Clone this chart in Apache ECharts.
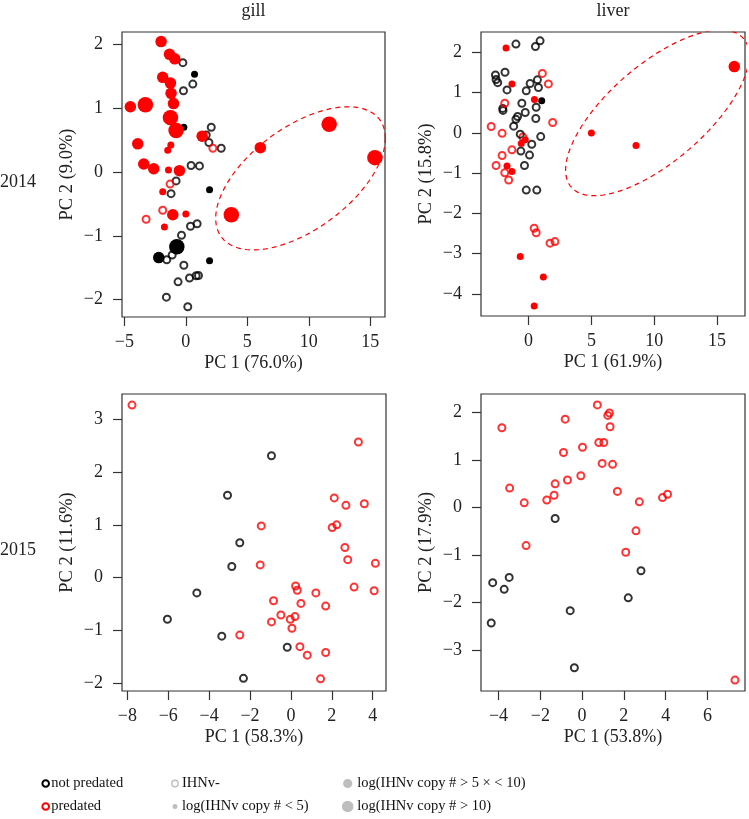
<!DOCTYPE html>
<html><head><meta charset="utf-8">
<script src="https://cdn.jsdelivr.net/npm/echarts@6/dist/echarts.min.js"></script>
<style>html,body{margin:0;padding:0;background:#fff}#c{width:749px;height:819px}</style>
</head><body><div id="c"></div>
<script>
// rows: [PC1, PC2, predated (1) / not predated (0), IHNv class (0 = IHNv-, 1 = log<5, 2 = log>5 & <10, 3 = log>10)]
const gill2014 = [
  [-0.24,1.71,0,0],[0.57,1.375,0,0],[-0.19,1.27,0,0],[2.07,0.70,0,0],[1.66,0.58,0,0],[1.88,0.46,0,0],
  [2.88,0.37,0,0],[0.43,0.10,0,0],[1.11,0.094,0,0],[-0.79,-0.14,0,0],[-1.20,-0.34,0,0],[0.92,-0.81,0,0],
  [0.38,-0.85,0,0],[-0.35,-0.99,0,0],[-1.11,-1.30,0,0],[-1.55,-1.375,0,0],[-0.16,-1.46,0,0],[1.03,-1.62,0,0],
  [0.84,-1.625,0,0],[0.30,-1.66,0,0],[-0.63,-1.72,0,0],[-1.58,-1.96,0,0],[0.16,-2.11,0,0],
  [0.71,1.53,0,1],[-0.16,0.70,0,1],[1.93,-0.28,0,1],[1.93,-1.39,0,1],[-2.20,-1.34,0,2],[-0.73,-1.17,0,3],
  [-3.23,-0.74,1,0],[-1.88,-0.60,1,0],[-1.28,-0.19,1,0],[2.20,0.37,1,0],
  [-2.01,2.04,1,2],[-1.33,1.84,1,2],[-0.90,1.77,1,2],[-1.88,1.48,1,2],[-1.25,1.39,1,2],[-1.20,1.23,1,2],
  [-1.00,1.07,1,2],[-4.51,1.02,1,2],[-3.29,1.05,1,3],[-1.25,0.85,1,3],[-0.79,0.65,1,3],[1.33,0.56,1,2],
  [-3.91,0.44,1,2],[-1.22,0.42,1,1],[-1.47,0.34,1,1],[-3.42,0.125,1,2],[-2.61,0.05,1,2],[-0.52,0.02,1,2],
  [-1.41,0.03,1,1],[-1.88,-0.31,1,1],[-1.06,-0.67,1,2],[0.00,-0.66,1,1],[-1.74,-0.86,1,1],
  [6.06,0.38,1,2],[3.70,-0.67,1,3],[11.66,0.745,1,3],[15.38,0.224,1,3]
];
const liver2014 = [
  [-1.00,2.21,0,0],[0.92,2.29,0,0],[0.55,2.15,0,0],[-1.87,1.51,0,0],[-2.63,1.44,0,0],[-2.58,1.33,0,0],
  [-2.45,1.25,0,0],[-1.71,1.07,0,0],[0.13,1.23,0,0],[0.71,1.32,0,0],[0.79,1.13,0,0],[-0.18,1.05,0,0],
  [-0.53,0.74,0,0],[-2.05,0.61,0,0],[-2.03,0.56,0,0],[-0.26,0.51,0,0],[0.61,0.64,0,0],[-1.00,0.34,0,0],
  [-0.87,0.41,0,0],[0.58,0.36,0,0],[-1.18,0.17,0,0],[0.97,-0.09,0,0],[0.26,-0.28,0,0],
  [-0.61,-0.45,0,0],[0.08,-0.55,0,0],[-0.32,-0.81,0,0],[-0.18,-1.42,0,0],[0.66,-1.42,0,0],
  [1.05,0.80,0,1],
  [1.10,1.48,1,0],[1.58,1.22,1,0],[-1.89,0.74,1,0],[-2.97,0.16,1,0],[-2.10,-0.01,1,0],[1.92,0.26,1,0],
  [-2.10,-0.56,1,0],[-1.32,-0.42,1,0],[-2.58,-0.81,1,0],[-1.89,-0.99,1,0],[-1.58,-1.17,1,0],
  [-0.45,-0.10,1,0],[0.45,-2.37,1,0],[0.61,-2.48,1,0],[1.71,-2.74,1,0],[2.10,-2.70,1,0],
  [-0.66,-0.03,0,0],
  [-1.79,2.11,1,1],[-1.32,1.22,1,1],[0.47,0.83,1,1],[-1.71,-0.82,1,1],[-1.32,-0.96,1,1],
  [-0.58,-0.26,1,1],[-0.26,-0.17,1,1],[-0.66,-3.07,1,1],[1.18,-3.58,1,1],[0.45,-4.30,1,1],
  [5.00,0.00,1,1],[8.55,-0.31,1,1],[16.37,1.65,1,2]
];
const gill2015 = [
  [-0.95,2.31,0,0],[-3.10,1.56,0,0],[-2.50,0.66,0,0],[-2.89,0.21,0,0],[-4.60,-0.29,0,0],
  [-6.04,-0.79,0,0],[-3.38,-1.11,0,0],[-0.18,-1.32,0,0],[-2.32,-1.91,0,0],
  [-7.77,3.27,1,0],[3.30,2.57,1,0],[2.12,1.51,1,0],[2.69,1.37,1,0],[3.59,1.40,1,0],[-1.45,0.98,1,0],
  [2.02,0.95,1,0],[2.24,1.00,1,0],[2.64,0.57,1,0],[2.78,0.34,1,0],[4.13,0.27,1,0],[-1.50,0.24,1,0],
  [0.23,-0.16,1,0],[0.31,-0.24,1,0],[1.22,-0.29,1,0],[3.09,-0.18,1,0],[4.07,-0.25,1,0],[-0.85,-0.44,1,0],
  [0.49,-0.49,1,0],[1.70,-0.54,1,0],[-0.49,-0.71,1,0],[-0.95,-0.84,1,0],[-0.03,-0.79,1,0],[0.20,-0.74,1,0],
  [0.05,-0.96,1,0],[-2.50,-1.09,1,0],[0.44,-1.31,1,0],[0.80,-1.47,1,0],[1.70,-1.42,1,0],[1.45,-1.92,1,0]
];
const liver2015 = [
  [-1.29,-0.23,0,0],[-4.28,-1.58,0,0],[-3.73,-1.72,0,0],[-3.49,-1.47,0,0],[-4.35,-2.43,0,0],
  [-0.57,-2.17,0,0],[-0.37,-3.37,0,0],[2.21,-1.90,0,0],[2.82,-1.33,0,0],
  [-3.84,1.68,1,0],[-3.47,0.41,1,0],[-2.77,0.10,1,0],[-2.68,-0.80,1,0],[-1.69,0.16,1,0],[-1.34,0.26,1,0],
  [-1.29,0.50,1,0],[-0.81,1.86,1,0],[-0.89,1.16,1,0],[-0.70,0.58,1,0],[-0.06,0.67,1,0],[0.02,1.27,1,0],
  [0.73,2.16,1,0],[0.80,1.37,1,0],[1.04,1.37,1,0],[0.96,0.93,1,0],[1.46,0.91,1,0],[1.23,1.94,1,0],
  [1.31,1.99,1,0],[1.34,1.70,1,0],[1.69,0.34,1,0],[2.74,0.12,1,0],[2.58,-0.49,1,0],[2.09,-0.94,1,0],
  [3.85,0.21,1,0],[4.09,0.28,1,0],[7.32,-3.63,1,0]
];
// 95% ellipses for the 2014 panels: [centre PC1, centre PC2, half-width PC1, half-height PC2, cos(phase)]
const ellipseGill2014 = [9.33, -0.10, 6.9, 1.12, 0.56];
const ellipseLiver2014 = [10.25, 0.50, 7.3, 2.06, 0.69];

const tissues = ['gill', 'liver'];
const years = ['2014', '2015'];
const xNames = ['PC 1 (76.0%)', 'PC 1 (61.9%)', 'PC 1 (58.3%)', 'PC 1 (53.8%)'];
const yNames = ['PC 2 (9.0%)', 'PC 2 (15.8%)', 'PC 2 (11.6%)', 'PC 2 (17.9%)'];
const xTicks = [[-5,0,5,10,15],[0,5,10,15],[-8,-6,-4,-2,0,2,4],[-4,-2,0,2,4,6]];
const yTicks = [[-2,-1,0,1,2],[-4,-3,-2,-1,0,1,2],[-2,-1,0,1,2,3],[-3,-2,-1,0,1,2]];
const legendGroups = ['not predated', 'predated'];
const legendLoads = ['IHNv-', 'log(IHNv copy # < 5)', 'log(IHNv copy # > 5 \u00d7 < 10)', 'log(IHNv copy # > 10)'];

// ---------- layout / styles ----------
const FONT = 'Liberation Serif';
const RED = '#ff0000', BLACK = '#000000', GREY = '#bebebe';
const panels = [gill2014, liver2014, gill2015, liver2015];
const ellipses = [ellipseGill2014, ellipseLiver2014, null, null];
const grids = [
  {left:122, top:32, width:263, height:285},
  {left:481, top:32, width:264, height:284},
  {left:122, top:394, width:264, height:297},
  {left:481, top:394, width:264, height:297}
];
const ranges = [
  {x:[-5.19,16.2], y:[-2.27,2.19]},
  {x:[-3.78,17.22], y:[-4.55,2.51]},
  {x:[-8.26,4.65], y:[-2.15,3.48]},
  {x:[-4.84,7.8], y:[-3.86,2.39]}
];
const sizeByLoad = [7, 7, 11.5, 15.5];
const minus = v => String(v).replace('-', '\u2212');

const option = {
  backgroundColor: '#fff',
  animation: false,
  grid: grids.map(g => Object.assign({show:true, borderColor:'#333', borderWidth:1.2, backgroundColor:'transparent'}, g)),
  xAxis: [], yAxis: [], series: [], graphic: []
};

panels.forEach((rows, i) => {
  option.xAxis.push({
    gridIndex:i, type:'value', min:ranges[i].x[0], max:ranges[i].x[1], position:'bottom',
    name:xNames[i], nameLocation:'middle', nameGap:37,
    nameTextStyle:{fontFamily:FONT, fontSize:18, color:'#222'},
    axisLine:{show:false, onZero:false}, splitLine:{show:false},
    axisTick:{show:true, length:9, lineStyle:{color:'#333', width:1.2}, customValues:xTicks[i]},
    axisLabel:{fontFamily:FONT, fontSize:18, color:'#222', margin:16, customValues:xTicks[i], formatter:minus}
  });
  option.yAxis.push({
    gridIndex:i, type:'value', min:ranges[i].y[0], max:ranges[i].y[1], position:'left',
    name:yNames[i], nameLocation:'middle', nameGap:45,
    nameTextStyle:{fontFamily:FONT, fontSize:18.5, color:'#222'},
    axisLine:{show:false, onZero:false}, splitLine:{show:false},
    axisTick:{show:true, length:9, lineStyle:{color:'#333', width:1.2}, customValues:yTicks[i]},
    axisLabel:{fontFamily:FONT, fontSize:18, color:'#222', margin:19, customValues:yTicks[i], formatter:minus}
  });
  const e = ellipses[i];
  if (e) {
    const d = Math.acos(e[4]);
    const pts = [];
    for (let k = 0; k <= 180; k++) {
      const t = k / 180 * 2 * Math.PI;
      pts.push([e[0] + e[2] * Math.cos(t), e[1] + e[3] * Math.cos(t - d)]);
    }
    option.series.push({
      type:'line', xAxisIndex:i, yAxisIndex:i, data:pts, showSymbol:false, symbol:'none',
      clip:true, silent:true, z:1,
      lineStyle:{color:RED, width:1.2, type:[5,4]}
    });
  }
  option.series.push({
    type:'scatter', xAxisIndex:i, yAxisIndex:i, z:2, clip:false,
    data: rows.map(r => {
      const col = r[2] ? RED : BLACK;
      const hollow = r[3] === 0;
      return {
        value:[r[0], r[1]],
        symbolSize: sizeByLoad[r[3]],
        itemStyle: hollow ? {color:'transparent', borderColor:col, borderWidth:2}
                          : {color:col, borderWidth:0, opacity:1}
      };
    })
  });
});

// panel titles and row labels
const textStyle = (extra) => Object.assign({fontFamily:FONT, fontSize:18, fill:'#222'}, extra);
tissues.forEach((t, j) => {
  const g = grids[j];
  option.graphic.push({type:'text', x:g.left + g.width/2, y:11,
    style:textStyle({text:t, textAlign:'center', textVerticalAlign:'middle'})});
});
years.forEach((y, j) => {
  const g = grids[j*2];
  option.graphic.push({type:'text', x:18, y:g.top + g.height/2 + 8,
    style:textStyle({text:y, textAlign:'center', textVerticalAlign:'middle'})});
});

// legend
const legFont = 14.5;
const legCol1 = 45.7, legCol2 = 175, legCol3 = 347.7, legRow1 = 783.5, legRow2 = 806.5;
[[BLACK, legRow1], [RED, legRow2]].forEach((c, k) => {
  option.graphic.push({type:'circle', shape:{cx:legCol1, cy:c[1], r:3.3},
    style:{fill:'none', stroke:c[0], lineWidth:2}});
  option.graphic.push({type:'text', x:legCol1 + 5.5, y:c[1],
    style:textStyle({text:legendGroups[k], fontSize:legFont, fill:'#111', textVerticalAlign:'middle'})});
});
const legItems = [
  {cx:legCol2, cy:legRow1, r:3.2, hollow:true},
  {cx:legCol2, cy:legRow2, r:2.5},
  {cx:legCol3, cy:legRow1, r:4.6},
  {cx:legCol3, cy:legRow2, r:5.8}
];
legItems.forEach((it, k) => {
  option.graphic.push({type:'circle', shape:{cx:it.cx, cy:it.cy, r:it.r},
    style: it.hollow ? {fill:'none', stroke:GREY, lineWidth:1.4} : {fill:GREY}});
  option.graphic.push({type:'text', x:it.cx + (k < 2 ? 7 : 9.5), y:it.cy,
    style:textStyle({text:legendLoads[k], fontSize:legFont, fill:'#111', textVerticalAlign:'middle'})});
});

const chart = echarts.init(document.getElementById('c'), null, {renderer:'canvas'});
chart.setOption(option);
</script>
</body></html>
